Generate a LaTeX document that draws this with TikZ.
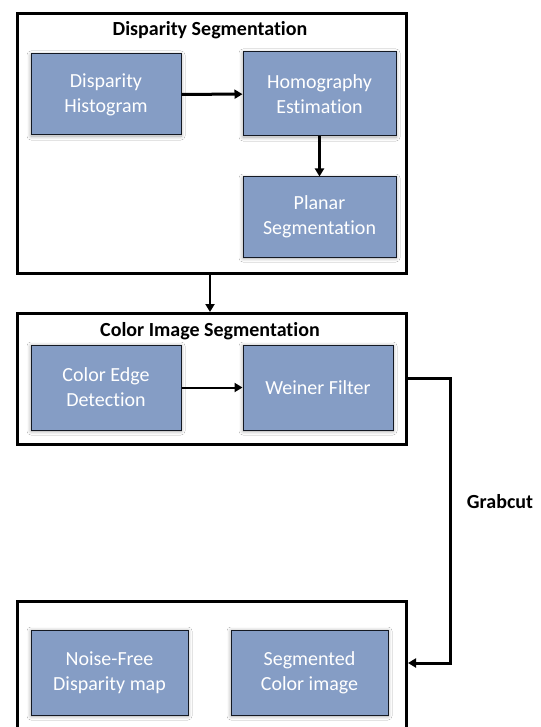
\documentclass[tikz,border=0pt]{standalone}
\usepackage{fontspec}
\setmainfont{Carlito}[Ligatures=NoCommon]
\usetikzlibrary{arrows.meta,shadows.blur}
\definecolor{procfill}{RGB}{133,157,197}
\definecolor{procedge}{RGB}{20,25,35}
\tikzset{
  group/.style={draw=black,line width=3pt,fill=white},
  proc/.style={draw=procedge,line width=1pt,fill=procfill,text=white,align=center,
    font=\fontsize{20}{25}\selectfont,inner sep=0pt,
    blur shadow={shadow xshift=0pt,shadow yshift=-1pt,shadow blur steps=8,shadow blur radius=4pt,shadow opacity=35}},
  heading/.style={font=\bfseries\fontsize{20}{24}\selectfont,inner sep=0pt},
  flow/.style={draw=black,-{Triangle[length=8pt,width=9pt]}},
}
\begin{document}
\begin{tikzpicture}[x=1pt,y=-1pt]
\useasboundingbox (0,0) rectangle (540,727);
\clip (0,0) rectangle (540,727);

% group frames
\node[group,minimum width=389pt,minimum height=260pt,anchor=north west] (g1) at (16,12) {};
\node[group,minimum width=389pt,minimum height=131pt,anchor=north west] (g2) at (16,312) {};
\node[group,minimum width=389pt,minimum height=160pt,anchor=north west] (g3) at (16,600) {};

% group titles
\node[heading] (t1) at (210,30) {Disparity Segmentation};
\node[heading] (t2) at (210,331) {Color Image Segmentation};

% process boxes
\node[proc,minimum width=150pt,minimum height=81pt] (dh) at (106,94.5) {Disparity\\Histogram};
\node[proc,minimum width=153pt,minimum height=84pt] (he) at (319.5,94) {Homography\\Estimation};
\node[proc,minimum width=153pt,minimum height=80pt] (ps) at (319.5,217) {Planar\\Segmentation};
\node[proc,minimum width=150pt,minimum height=85pt] (ce) at (106,387.5) {Color Edge\\Detection};
\node[proc,minimum width=150pt,minimum height=85pt] (wf) at (318,387.5) {Weiner Filter};
\node[proc,minimum width=157pt,minimum height=85pt] (nf) at (109.5,672.5) {Noise-Free\\Disparity map};
\node[proc,minimum width=157pt,minimum height=85pt] (sc) at (309.5,672.5) {Segmented\\Color image};

% connectors
\draw[flow,line width=3pt] (dh) -- (he);
\draw[flow,line width=3pt] (he) -- (ps);
\draw[flow,line width=2pt] (g1.south -| t1) -- (g2.north -| t1);
\draw[flow,line width=2pt] (ce) -- (wf);

\coordinate (r1) at (450,378);
\coordinate (r2) at (450,663);
\draw[flow,line width=3pt] (g2.east |- r1) -- (r1) -- (r2) -- (g3.east |- r2);
\node[heading] (gc) at (500,502) {Grabcut};
\end{tikzpicture}
\end{document}
